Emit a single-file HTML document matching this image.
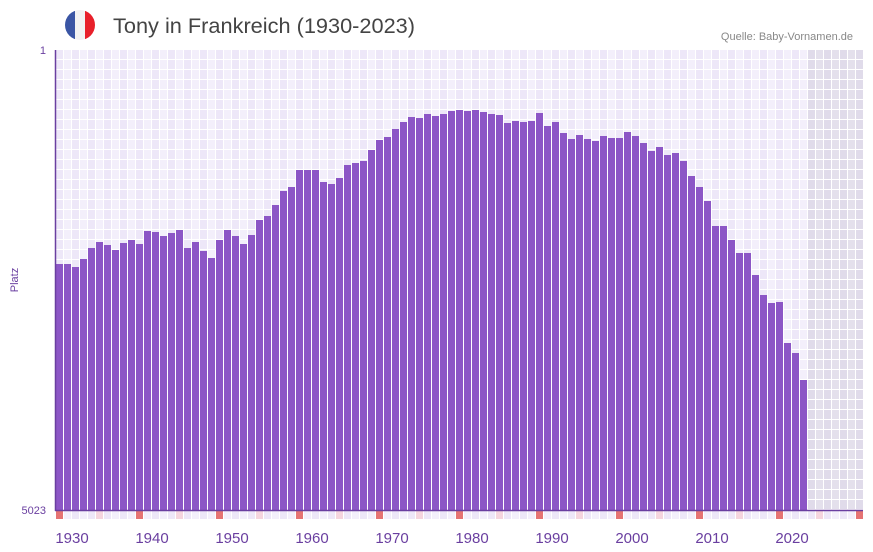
<!DOCTYPE html>
<html><head><meta charset="utf-8"><style>
body{margin:0;background:#fff;width:873px;height:552px;overflow:hidden;font-family:"Liberation Sans",sans-serif}
svg{display:block}
</style></head><body>
<svg id="s" width="873" height="552" xmlns="http://www.w3.org/2000/svg">
<defs><clipPath id="fc"><circle cx="80" cy="25" r="15"/></clipPath></defs>
<g clip-path="url(#fc)"><rect x="65" y="10" width="10" height="30" fill="#3a55a4"/><rect x="75" y="10" width="10" height="30" fill="#f2f2f2"/><rect x="85" y="10" width="10" height="30" fill="#e8202a"/></g>
<text x="113" y="33" font-size="21" fill="#444" textLength="302" lengthAdjust="spacingAndGlyphs">Tony in Frankreich (1930-2023)</text>
<text x="853" y="40" font-size="11" fill="#888" text-anchor="end">Quelle: Baby-Vornamen.de</text>
<g id="grid"></g>
<g id="bars"></g>
<line x1="55.5" y1="50" x2="55.5" y2="511" stroke="#6a3fa0" stroke-width="1.5"/>
<line x1="55" y1="510.5" x2="863" y2="510.5" stroke="#6a3fa0" stroke-width="1.5"/>
<text x="46" y="54" font-size="11" fill="#6a3fa0" text-anchor="end">1</text>
<text x="46" y="514" font-size="11" fill="#6a3fa0" text-anchor="end">5023</text>
<text x="18" y="280" font-size="11" fill="#6a3fa0" text-anchor="middle" transform="rotate(-90 18 280)">Platz</text>
<g font-size="15" fill="#6a3fa0" text-anchor="middle">
<text x="72" y="543">1930</text><text x="152" y="543">1940</text><text x="232" y="543">1950</text><text x="312" y="543">1960</text><text x="392" y="543">1970</text><text x="472" y="543">1980</text><text x="552" y="543">1990</text><text x="632" y="543">2000</text><text x="712" y="543">2010</text><text x="792" y="543">2020</text>
</g>
</svg>
<script>
var NS="http://www.w3.org/2000/svg";
function r(g,x,y,w,h,f){var e=document.createElementNS(NS,"rect");e.setAttribute("x",x);e.setAttribute("y",y);e.setAttribute("width",w);e.setAttribute("height",h);e.setAttribute("fill",f);g.appendChild(e);}
var g=document.getElementById("grid"),b=document.getElementById("bars");
r(g,56,50,807,460,"#fff");
for(var c=0;c<101;c++){var x=56+c*8;var shade=(x>=808);
 var f=shade?(c%2?"#e4e0ec":"#e0dbea"):(c%2?"#f3effb":"#ede7f8");
 for(var y=50;y<510;y+=10){r(g,x,y,7,Math.min(9,510-y),f);}
 var m=c%10==0?"#e57373":(c%10==5?"#f5d5de":(c%2?"#f3effb":"#ede7f8"));
 r(g,x,511,7,8,m);}
var t=[264,264,267,259,248,242,245,250,243,240,244,231,232,236,233,230,248,242,251,258,240,230,236,244,235,220,216,205,191,187,170,170,170,182,184,178,165,163,161,150,140,137,129,122,117,118,114,116,114,111,110,111,110,112,114,115,123,121,122,121,113,126,122,133,139,135,139,141,136,138,138,132,136,143,151,147,155,153,161,176,187,201,226,226,240,253,253,275,295,303,302,343,353,380];
for(var i=0;i<t.length;i++){r(b,56+i*8,t[i],7,510-t[i],"#8c56c6");}
</script>
</body></html>
